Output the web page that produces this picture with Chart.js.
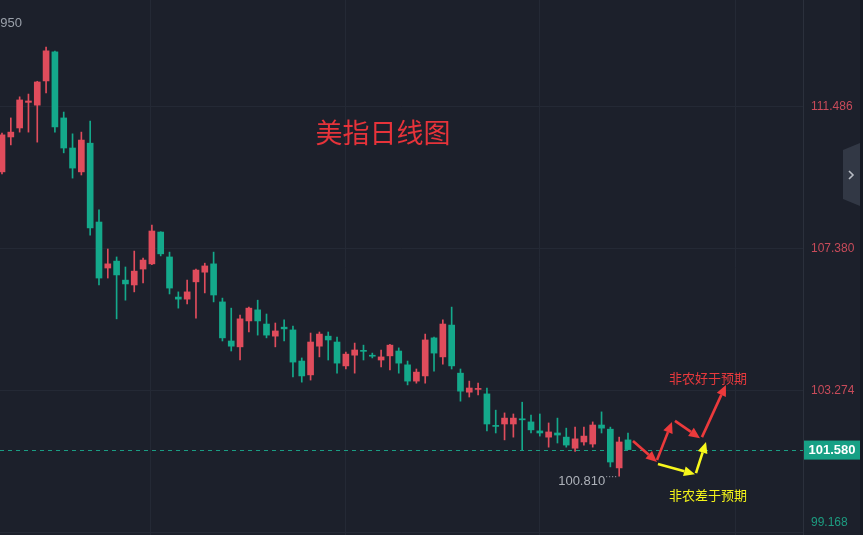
<!DOCTYPE html>
<html>
<head>
<meta charset="utf-8">
<script src="https://cdn.jsdelivr.net/npm/chart.js@4.4.0/dist/chart.umd.min.js"></script>
<style>
html, body { margin: 0; padding: 0; background: #1c202b; }
#wrap { width: 863px; height: 535px; }
</style>
</head>
<body>
<div id="wrap"><canvas id="myChart" width="863" height="535"></canvas></div>
<script>
// daily candles, USD index
const opens  = [109.61,110.62,110.88,111.62,111.54,112.24,113.08,111.17,110.30,109.61,110.44,108.16,106.83,107.03,106.48,106.34,106.80,106.95,107.87,107.15,105.99,105.93,106.43,106.71,106.95,105.85,104.72,104.55,105.30,105.62,105.21,104.86,105.12,105.04,104.14,103.74,104.57,104.86,104.69,104.00,104.31,104.45,104.30,104.17,104.29,104.43,104.03,103.56,103.71,104.81,104.26,105.18,103.79,103.24,103.32,103.19,102.28,102.32,102.32,102.47,102.38,102.12,101.94,102.06,101.94,101.62,101.80,101.74,102.29,102.17,101.05,101.86];
const closes = [110.68,110.76,111.69,111.66,112.21,113.11,110.91,110.30,109.72,110.53,107.99,106.54,106.95,106.63,106.37,106.74,107.06,107.90,107.24,106.25,105.93,106.14,106.77,106.89,106.05,104.81,104.57,105.36,105.67,105.30,104.89,105.01,105.07,104.11,103.71,104.69,104.92,104.75,104.08,104.34,104.46,104.42,104.28,104.26,104.60,104.08,103.56,103.82,104.75,104.37,105.21,104.00,103.27,103.36,103.34,102.32,102.25,102.49,102.49,102.44,102.15,102.06,102.09,102.00,101.71,101.89,101.97,102.29,102.20,101.22,101.80,101.58];
const highs  = [110.73,111.17,111.78,111.86,112.23,113.22,113.10,111.34,110.71,110.76,111.08,108.51,107.38,107.15,106.86,107.32,107.12,108.07,107.88,107.29,106.14,106.48,106.80,106.97,107.29,105.96,105.67,105.47,105.70,105.90,105.50,105.24,105.33,105.15,104.23,104.95,104.98,104.98,104.83,104.40,104.66,104.60,104.37,104.46,104.62,104.52,104.14,103.91,104.92,104.83,105.33,105.70,103.91,103.56,103.50,103.36,102.72,102.64,102.61,102.95,102.58,102.61,102.35,102.49,102.20,102.23,102.23,102.38,102.67,102.23,101.94,102.06];
const lows   = [109.55,110.39,110.76,110.76,110.47,111.89,110.76,110.16,109.43,109.52,107.78,106.34,106.54,105.36,105.90,106.14,106.40,106.93,107.18,106.08,105.67,105.79,105.38,106.11,105.85,104.72,104.43,104.17,104.98,104.89,104.81,104.55,104.72,103.68,103.53,103.59,104.26,104.17,103.79,103.91,103.79,104.17,104.23,103.97,103.88,103.79,103.45,103.50,103.50,103.85,104.05,103.91,102.98,103.10,103.16,102.12,102.06,101.86,101.94,101.57,102.06,101.97,101.65,101.77,101.65,101.53,101.71,101.65,102.06,101.08,100.81,101.58];

const yTicks = [99.168, 103.274, 107.380, 111.486];
const yTickLabels = ['99.168', '103.274', '107.380', '111.486'];
const lastPrice = 101.580;
const lowLabel = '100.810';
const highLabel = '113.950';

// scenario arrows [x1, p1, x2, p2] in candle index / price
const redArrows = [[71.57,101.83,74.29,101.22],[74.29,101.28,75.99,102.38],[76.33,102.41,79.17,101.91],[79.39,101.94,82.11,103.45]];
const yellowArrows = [[74.40,101.16,78.60,100.87],[78.71,100.90,79.85,101.80]];

const RED = '#e04c5c';
const GREEN = '#14a98b';
const GRID = '#242935';

const isUp = i => closes[i] >= opens[i];
const candleColor = i => isUp(i) ? RED : GREEN;

const wickData = highs.map((h, i) => ({ x: i, y: [lows[i], h] }));
const bodyData = opens.map((o, i) => ({ x: i, y: [o, closes[i]] }));

function drawArrow(ctx, x1, y1, x2, y2, color) {
	const ang = Math.atan2(y2 - y1, x2 - x1);
	const head = 11, hw = 5;
	const bx = x2 - head * Math.cos(ang), by = y2 - head * Math.sin(ang);
	ctx.strokeStyle = color;
	ctx.fillStyle = color;
	ctx.lineWidth = 2.6;
	ctx.beginPath();
	ctx.moveTo(x1, y1);
	ctx.lineTo(bx, by);
	ctx.stroke();
	ctx.beginPath();
	ctx.moveTo(x2, y2);
	ctx.lineTo(bx + hw * Math.sin(ang), by - hw * Math.cos(ang));
	ctx.lineTo(bx - hw * Math.sin(ang), by + hw * Math.cos(ang));
	ctx.closePath();
	ctx.fill();
}

const overlay = {
	id: 'overlay',
	beforeDatasetsDraw(chart) {
		const { ctx, scales: { y }, chartArea } = chart;
		const py = Math.round(y.getPixelForValue(lastPrice)) + 0.5;
		ctx.save();
		ctx.strokeStyle = '#1a9e84';
		ctx.lineWidth = 1;
		ctx.setLineDash([4, 4]);
		ctx.beginPath();
		ctx.moveTo(chartArea.left, py);
		ctx.lineTo(chartArea.right, py);
		ctx.stroke();
		ctx.restore();
	},
	afterDatasetsDraw(chart) {
		const { ctx, scales: { x, y }, chartArea } = chart;
		ctx.save();
		// title
		ctx.font = '27px "Noto Sans CJK SC"';
		ctx.fillStyle = '#e6333a';
		ctx.textAlign = 'center';
		ctx.textBaseline = 'middle';
		ctx.fillText('美指日线图', x.getPixelForValue(43.2), y.getPixelForValue(110.73));

		ctx.font = '13px "Noto Sans CJK SC"';
		ctx.fillStyle = '#e8393d';
		ctx.fillText('非农好于预期', x.getPixelForValue(80.07), y.getPixelForValue(103.65));
		ctx.fillStyle = '#f5f51a';
		ctx.fillText('非农差于预期', x.getPixelForValue(80.07), y.getPixelForValue(100.27));

		redArrows.forEach(a => drawArrow(ctx, x.getPixelForValue(a[0]), y.getPixelForValue(a[1]), x.getPixelForValue(a[2]), y.getPixelForValue(a[3]), '#ec3a3c'));
		yellowArrows.forEach(a => drawArrow(ctx, x.getPixelForValue(a[0]), y.getPixelForValue(a[1]), x.getPixelForValue(a[2]), y.getPixelForValue(a[3]), '#f7f71c'));

		// low / high markers
		const li = lows.indexOf(Math.min(...lows));
		const lx = x.getPixelForValue(li), ly = y.getPixelForValue(lows[li]);
		ctx.font = '13px "Liberation Sans"';
		ctx.fillStyle = '#aeb2ba';
		ctx.textAlign = 'right';
		ctx.fillText(lowLabel, lx - 14, ly + 5);
		ctx.strokeStyle = '#aeb2ba';
		ctx.setLineDash([1, 2]);
		ctx.lineWidth = 1;
		ctx.beginPath();
		ctx.moveTo(lx - 13, ly + 0.5);
		ctx.lineTo(lx - 2, ly + 0.5);
		ctx.stroke();
		ctx.setLineDash([]);
		ctx.fillStyle = '#9aa0aa';
		ctx.fillText(highLabel, chartArea.left + 22, y.getPixelForValue(113.91));
		ctx.restore();
	},
	afterDraw(chart) {
		const { ctx, scales: { y }, chartArea } = chart;
		ctx.save();
		ctx.font = '12px "Liberation Sans"';
		ctx.textAlign = 'left';
		ctx.textBaseline = 'middle';
		yTicks.forEach((v, i) => {
			const py = Math.min(y.getPixelForValue(v), 523);
			ctx.fillStyle = v > lastPrice ? '#c84b5a' : '#1d9c80';
			ctx.fillText(yTickLabels[i], chartArea.right + 8, py);
		});
		// current price box
		const py = y.getPixelForValue(lastPrice);
		ctx.fillStyle = '#17a085';
		ctx.fillRect(chartArea.right + 1, py - 9, 56, 19);
		ctx.fillStyle = '#ffffff';
		ctx.font = 'bold 13px "Liberation Sans"';
		ctx.textAlign = 'center';
		ctx.fillText(lastPrice.toFixed(3), chartArea.right + 29, py + 1);
		// side tab
		ctx.fillStyle = '#323845';
		ctx.beginPath();
		ctx.moveTo(843, 150);
		ctx.lineTo(860, 143);
		ctx.lineTo(860, 206);
		ctx.lineTo(843, 199);
		ctx.closePath();
		ctx.fill();
		ctx.strokeStyle = '#b8bcc4';
		ctx.lineWidth = 1.6;
		ctx.beginPath();
		ctx.moveTo(849, 171);
		ctx.lineTo(853, 175);
		ctx.lineTo(849, 179);
		ctx.stroke();
		ctx.fillStyle = '#161a23';
		ctx.fillRect(860, 0, 3, 535);
		ctx.restore();
	}
};

const ctx = document.getElementById('myChart').getContext('2d');
const myChart = new Chart(ctx, {
	type: 'bar',
	data: {
		datasets: [{
			label: 'wick',
			data: wickData,
			backgroundColor: c => candleColor(c.dataIndex),
			barThickness: 1,
			grouped: false,
			order: 2
		}, {
			label: 'body',
			data: bodyData,
			backgroundColor: c => candleColor(c.dataIndex),
			barThickness: 6,
			minBarLength: 1,
			grouped: false,
			order: 1
		}]
	},
	options: {
		responsive: false,
		animation: false,
		layout: { padding: 0 },
		plugins: {
			legend: { display: false },
			tooltip: { enabled: false }
		},
		scales: {
			x: {
				type: 'linear',
				min: -0.227,
				max: 90.85,
				offset: false,
				grid: { color: GRID, drawTicks: false, offset: false },
				border: { display: false },
				ticks: { display: false },
				afterBuildTicks: s => { s.ticks = [16.79, 38.91, 61.02, 83.14].map(v => ({ value: v })); },
				afterFit: s => { s.height = 0; }
			},
			y: {
				position: 'right',
				min: 99.110,
				max: 114.580,
				grid: { color: GRID, drawTicks: false },
				border: { display: true, color: '#2b303c' },
				ticks: { display: false },
				afterBuildTicks: s => { s.ticks = yTicks.map(v => ({ value: v })); },
				afterFit: s => { s.width = 60; }
			}
		}
	},
	plugins: [overlay]
});
</script>
</body>
</html>
